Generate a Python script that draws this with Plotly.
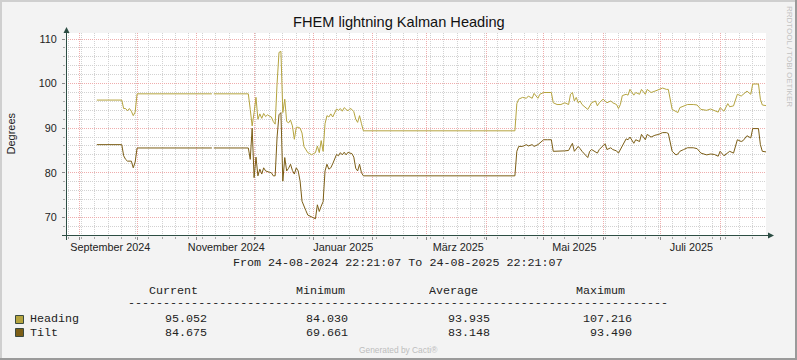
import plotly.graph_objects as go

# ---------------- data ----------------
dates = [
    "2024-09-10", "2024-09-23", "2024-09-24", "2024-09-25", "2024-09-26", "2024-09-27",
    "2024-09-28", "2024-09-29", "2024-09-30", "2024-10-01", "2024-11-09", "2024-11-09 12:00",
    "2024-11-10", "2024-11-28", "2024-11-29", "2024-11-30",
    "2024-12-01", "2024-12-02", "2024-12-03", "2024-12-04", "2024-12-05", "2024-12-06",
    "2024-12-07", "2024-12-08", "2024-12-09", "2024-12-10", "2024-12-11", "2024-12-12",
    "2024-12-13", "2024-12-14", "2024-12-15", "2024-12-16", "2024-12-17", "2024-12-18",
    "2024-12-19", "2024-12-20", "2024-12-21", "2024-12-22", "2024-12-23", "2024-12-24",
    "2024-12-25", "2024-12-26", "2024-12-27", "2024-12-28", "2024-12-29", "2024-12-30",
    "2024-12-31",
    "2025-01-01", "2025-01-02", "2025-01-03", "2025-01-04", "2025-01-05", "2025-01-06",
    "2025-01-07", "2025-01-08", "2025-01-09", "2025-01-10", "2025-01-11", "2025-01-12",
    "2025-01-13", "2025-01-14", "2025-01-15", "2025-01-16", "2025-01-17", "2025-01-18",
    "2025-01-19", "2025-01-20", "2025-01-21", "2025-01-22", "2025-01-23", "2025-01-24",
    "2025-01-25", "2025-01-26", "2025-01-27",
    "2025-04-16", "2025-04-17", "2025-04-18", "2025-04-20", "2025-04-22", "2025-04-23",
    "2025-04-25", "2025-04-26", "2025-04-28", "2025-04-29",
    "2025-05-01", "2025-05-03", "2025-05-05", "2025-05-06", "2025-05-08", "2025-05-10",
    "2025-05-12", "2025-05-14", "2025-05-15", "2025-05-16", "2025-05-17", "2025-05-18",
    "2025-05-19", "2025-05-20", "2025-05-21", "2025-05-24", "2025-05-25", "2025-05-26",
    "2025-05-28", "2025-05-29", "2025-05-30",
    "2025-06-01", "2025-06-02", "2025-06-03", "2025-06-05", "2025-06-06", "2025-06-08",
    "2025-06-09", "2025-06-10", "2025-06-11", "2025-06-13", "2025-06-14", "2025-06-15",
    "2025-06-17", "2025-06-18", "2025-06-20", "2025-06-21", "2025-06-23", "2025-06-24",
    "2025-06-26", "2025-06-28", "2025-06-30",
    "2025-07-02", "2025-07-04", "2025-07-05", "2025-07-07", "2025-07-09", "2025-07-10",
    "2025-07-11", "2025-07-13", "2025-07-15", "2025-07-18", "2025-07-20", "2025-07-22",
    "2025-07-25", "2025-07-27", "2025-07-29", "2025-07-31",
    "2025-08-01", "2025-08-03", "2025-08-05", "2025-08-06", "2025-08-08", "2025-08-10",
    "2025-08-12", "2025-08-13", "2025-08-15", "2025-08-17", "2025-08-18", "2025-08-21",
    "2025-08-22", "2025-08-23", "2025-08-24 22:00",
]

heading = [
    96.3, 96.3, 94.4, 94.4, 93.9, 94.4, 93.8, 92.8, 93.6, 97.7, 97.7, None,
    97.7, 97.7, 94.2, 90.5,
    93.5, 96.9, 92.0, 93.2, 92.2, 93.3, 92.6, 93.0, 92.7, 92.5, 91.5, 90.9,
    100.0, 107.0, 107.216, 93.5, 96.5, 91.5, 91.2, 91.8, 90.5, 87.5, 90.2, 90.2,
    90.0, 88.9, 85.9, 85.3, 84.5, 84.3, 84.03,
    84.3, 84.5, 86.0, 84.5, 87.2, 84.8, 91.0, 92.8, 92.5, 93.2, 92.5, 93.5,
    94.3, 94.0, 94.4, 93.8, 94.6, 94.2, 93.9, 94.4, 94.2, 93.7, 92.0, 91.3,
    92.8, 91.0, 89.4,
    89.4, 95.5, 96.5, 96.9, 96.7, 97.2, 96.7, 97.8, 96.7, 97.6,
    98.0, 98.0, 98.0, 95.7, 95.3, 95.3, 95.7, 95.3, 97.6, 98.0, 96.1, 96.9,
    95.7, 96.1, 95.3, 94.2, 95.0, 95.7, 96.1, 95.0, 95.7,
    96.5, 96.1, 95.7, 96.1, 95.7, 95.3, 94.4, 95.3, 97.3, 97.6, 97.4, 98.7,
    97.4, 98.0, 97.6, 98.7, 97.6, 98.7, 98.0, 98.3, 98.7,
    99.0, 98.7, 98.7, 94.2, 93.8, 93.5, 94.6, 95.0, 95.3, 95.3, 95.2, 94.2,
    94.0, 94.3, 94.0, 93.6,
    94.6, 93.8, 95.5, 94.8, 95.0, 97.6, 97.2, 97.6, 98.3, 97.6, 99.9, 99.9,
    96.5, 95.2, 95.052,
]

tilt = [
    86.3, 86.3, 83.8, 83.0, 82.6, 82.6, 82.6, 81.1, 82.4, 85.55, 85.55, None,
    85.55, 85.55, 83.0, 90.0,
    78.9, 83.5, 79.3, 80.8, 79.7, 81.1, 80.4, 80.2, 80.1, 80.0, 79.3, 79.3,
    88.0, 93.0, 93.49, 78.1, 83.4, 80.4, 81.0, 81.9, 80.5, 79.7, 81.1, 80.4,
    78.1, 73.6, 72.3, 71.5, 70.5, 70.3, 70.2,
    70.0, 69.661, 72.8, 71.3, 72.5, 73.5, 80.4, 81.9, 80.8, 81.1, 82.0, 83.0,
    84.1, 83.8, 84.5, 84.0, 84.6, 84.0, 84.6, 84.4, 84.3, 83.5, 81.0, 80.4,
    81.9, 80.0, 79.3,
    79.3, 84.8, 85.9, 85.9, 86.3, 86.0, 86.3, 85.9, 86.3, 86.6,
    87.4, 87.4, 87.4, 84.8, 84.8, 84.8, 84.9, 85.0, 85.8, 86.6, 84.8, 85.3,
    85.9, 85.4, 84.8, 83.4, 84.8, 85.2, 84.6, 84.4, 85.2,
    86.0, 86.5, 85.2, 85.6, 85.2, 84.9, 84.4, 85.2, 86.3, 87.6, 87.4, 88.0,
    86.6, 87.4, 87.0, 88.6, 87.4, 88.6, 88.0, 88.4, 88.6,
    89.0, 89.0, 88.8, 84.8, 84.0, 84.2, 84.8, 85.2, 85.6, 85.6, 85.4, 84.4,
    84.0, 84.2, 84.1, 83.7,
    84.8, 83.8, 84.4, 84.8, 84.4, 87.4, 87.0, 87.2, 88.3, 87.8, 89.9, 89.9,
    86.3, 84.8, 84.675,
]

time_start = "2024-08-24 22:21:07"
time_end = "2025-08-24 22:21:07"

month_label_dates = ["2024-09-17", "2024-11-16 12:00", "2025-01-16 12:00",
                     "2025-03-17 12:00", "2025-05-17", "2025-07-17"]
month_labels = ["September 2024", "November 2024", "Januar 2025",
                "März 2025", "Mai 2025", "Juli 2025"]

series_names = ["Heading", "Tilt"]
stat_headers = ["Current", "Minimum", "Average", "Maximum"]
heading_stats = ["95.052", "84.030", "93.935", "107.216"]
tilt_stats = ["84.675", "69.661", "83.148", "93.490"]

title_text = "FHEM lightning Kalman Heading"
y_title = "Degrees"
period_text = "From 24-08-2024 22:21:07 To 24-08-2025 22:21:07"

# ---------------- style ----------------
HEADING_COLOR = "#B5A43F"
TILT_COLOR = "#7C5E16"
AXIS_COLOR = "#2C4D43"
MAJOR_GRID = "#EFADAD"
MINOR_GRID = "#D2D2D2"
BG = "#F3F3F3"
SANS = "Liberation Sans, Arial, sans-serif"
MONO = "Liberation Mono, Courier New, monospace"

W, H = 797, 360
L, R, T, B = 66, 766, 33, 236


def px(x):
    return (x - L) / (R - L)


def py(y):
    return (B - y) / (B - T)


fig = go.Figure()
fig.add_trace(go.Scatter(x=dates, y=heading, mode="lines", name=series_names[0],
                         line=dict(color=HEADING_COLOR, width=1), connectgaps=False,
                         hoverinfo="skip"))
fig.add_trace(go.Scatter(x=dates, y=tilt, mode="lines", name=series_names[1],
                         line=dict(color=TILT_COLOR, width=1), connectgaps=False,
                         hoverinfo="skip"))
# carrier trace for the month-label axis
fig.add_trace(go.Scatter(x=[time_start, time_end], y=[None, None], xaxis="x2",
                         mode="lines", showlegend=False, hoverinfo="skip"))

fig.update_layout(
    width=W, height=H,
    margin=dict(l=L, r=W - R, t=T, b=H - B, pad=0),
    paper_bgcolor=BG, plot_bgcolor="#FFFFFF",
    showlegend=False,
    xaxis=dict(
        type="date", range=[time_start, time_end],
        dtick="M1", tick0="2024-09-01",
        showgrid=True, gridcolor=MAJOR_GRID, gridwidth=1, griddash="1px,1px",
        showticklabels=False, ticks="outside", ticklen=3, tickcolor="#8A8A8A",
        minor=dict(dtick=7 * 86400000, tick0="2024-08-26", showgrid=True,
                   gridcolor=MINOR_GRID, gridwidth=1, griddash="1px,1px",
                   ticks="outside", ticklen=2, tickcolor="#A8A8A8"),
        zeroline=False, showline=False, fixedrange=True,
    ),
    xaxis2=dict(
        type="date", range=[time_start, time_end], overlaying="x", anchor="y",
        side="bottom", tickmode="array", tickvals=month_label_dates,
        ticktext=month_labels, showgrid=False, ticks="", zeroline=False,
        showline=False, tickfont=dict(family=SANS, size=10.8, color="#222222"),
        ticklabelstandoff=3, fixedrange=True,
    ),
    yaxis=dict(
        range=[65.8, 111.35], dtick=10, tick0=0,
        showgrid=True, gridcolor=MAJOR_GRID, gridwidth=1, griddash="1px,1px",
        ticks="outside", ticklen=3, tickcolor="#8A8A8A",
        minor=dict(dtick=2, tick0=0, showgrid=True, gridcolor=MINOR_GRID,
                   gridwidth=1, griddash="1px,1px", ticks="outside", ticklen=2,
                   tickcolor="#A8A8A8"),
        zeroline=False, showline=False, fixedrange=True,
        tickfont=dict(family=SANS, size=10.8, color="#222222"),
        ticklabelstandoff=3,
    ),
)

shapes = []
# axes with arrows
shapes.append(dict(type="line", xref="paper", yref="paper", x0=px(62), x1=px(769),
                   y0=py(235.5), y1=py(235.5), line=dict(color=AXIS_COLOR, width=1), layer="above"))
shapes.append(dict(type="line", xref="paper", yref="paper", x0=px(66.5), x1=px(66.5),
                   y0=py(240), y1=py(32), line=dict(color=AXIS_COLOR, width=1), layer="above"))
shapes.append(dict(type="path", xref="paper", yref="paper", layer="above",
                   path=f"M {px(768)},{py(232.5)} L {px(774)},{py(235.5)} L {px(768)},{py(238.5)} Z",
                   fillcolor=AXIS_COLOR, line=dict(color=AXIS_COLOR, width=0)))
shapes.append(dict(type="path", xref="paper", yref="paper", layer="above",
                   path=f"M {px(63.5)},{py(33)} L {px(66.5)},{py(27)} L {px(69.5)},{py(33)} Z",
                   fillcolor=AXIS_COLOR, line=dict(color=AXIS_COLOR, width=0)))
# legend swatches
for c, (ya, yb) in zip([HEADING_COLOR, TILT_COLOR], [(315.5, 323.5), (328.5, 336.5)]):
    shapes.append(dict(type="rect", xref="paper", yref="paper", x0=px(15.5), x1=px(23.5),
                       y0=py(yb), y1=py(ya), fillcolor=c, line=dict(color="#3A4A40", width=1)))
# image frame
shapes.append(dict(type="line", xref="paper", yref="paper", x0=px(0), x1=px(797), y0=py(1), y1=py(1),
                   line=dict(color="#CFCFCF", width=2)))
shapes.append(dict(type="line", xref="paper", yref="paper", x0=px(1), x1=px(1), y0=py(0), y1=py(360),
                   line=dict(color="#CFCFCF", width=2)))
shapes.append(dict(type="line", xref="paper", yref="paper", x0=px(0), x1=px(797), y0=py(359), y1=py(359),
                   line=dict(color="#9A9A9A", width=2)))
shapes.append(dict(type="line", xref="paper", yref="paper", x0=px(796), x1=px(796), y0=py(0), y1=py(360),
                   line=dict(color="#9A9A9A", width=2)))
fig.update_layout(shapes=shapes)

ann = []


def text(t, x, y, size, family=SANS, color="#222222", xanchor="center", angle=0, height=None):
    a = dict(text=t, x=px(x), y=py(y), xref="paper", yref="paper", showarrow=False,
             xanchor=xanchor, yanchor="middle", textangle=angle, borderpad=0,
             borderwidth=0, font=dict(family=family, size=size, color=color))
    if height is not None:
        a["height"] = height
    ann.append(a)


text(title_text, 398.5, 22, 14.6, color="#111111")
text(y_title, 10.5, 134, 11, angle=-90)
text("RRDTOOL / TOBI OETIKER", 789, 56, 8, color="#C2C2C2", angle=90)
text(period_text, 398, 263, 11.7, family=MONO)
for h, cx in zip(stat_headers, [173, 320, 453, 600]):
    text(h, cx, 290.5, 11.7, family=MONO, height=11)
text("-" * 77, 127.5, 302.5, 11.7, family=MONO, xanchor="left", height=11)
text(series_names[0], 30, 318.5, 11.7, family=MONO, xanchor="left")
text(series_names[1], 30, 332.5, 11.7, family=MONO, xanchor="left")
for v, rx in zip(heading_stats, [207, 348, 490, 632]):
    text(v, rx, 318.5, 11.7, family=MONO, xanchor="right")
for v, rx in zip(tilt_stats, [207, 348, 490, 632]):
    text(v, rx, 332.5, 11.7, family=MONO, xanchor="right")
text("Generated by Cacti®", 398.5, 350, 8.4, color="#BDBDBD")
fig.update_layout(annotations=ann)

fig.write_html(
    "out.html",
    config={"displayModeBar": False, "staticPlot": True},
    post_script="document.body.style.margin='0';document.body.style.padding='0';"
                "document.body.style.overflow='hidden';",
)
